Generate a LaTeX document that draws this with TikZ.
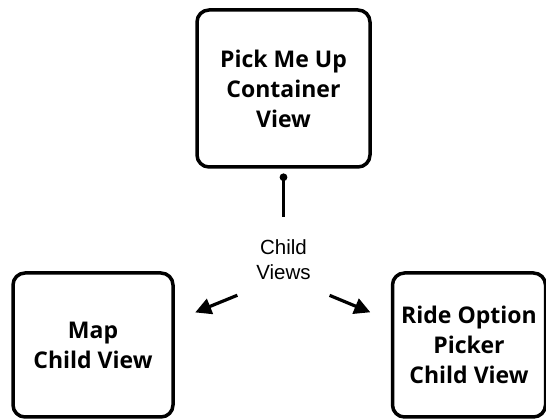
\documentclass[tikz,border=0pt]{standalone}
\usepackage{fontspec}
\newfontfamily\boxfont{Open Sans}
\newfontfamily\labelfont{Liberation Sans}
\usetikzlibrary{arrows.meta,positioning}

\begin{document}
\begin{tikzpicture}[on grid,
	view/.style={rectangle,draw,line width=3.5pt,rounded corners=12pt,inner sep=0pt,outer sep=0pt,align=center,font=\boxfont\bfseries\fontsize{23}{30}\selectfont},
	note/.style={inner sep=0pt,outer sep=0pt,minimum width=50pt,minimum height=44pt,align=center,font=\labelfont\fontsize{20.5}{25}\selectfont},
	link/.style={line width=3.5pt,{Circle[length=7.5pt]}-,shorten <=6.5pt,shorten >=20.5pt},
	child/.style={line width=3.2pt,-{Triangle[length=16pt,width=16pt]},shorten <=20.5pt,shorten >=24pt}]
	\useasboundingbox (0,0) rectangle (546pt,420pt);
	\node[view,minimum width=173pt,minimum height=157pt] (top) at (283.5pt,331.5pt) {Pick Me Up\\Container\\View};
	\node[note] (views) [below=171pt of top] {Child\\Views};
	\node[view,minimum width=160pt,minimum height=144pt] (map) [below left=85.5pt and 190.5pt of views] {Map\\Child View};
	\node[view,minimum width=153pt,minimum height=144pt] (ride) [below right=85.5pt and 185.5pt of views] {Ride Option\\Picker\\Child View};
	\draw[link] (top.south) -- (views.north);
	\draw[child] ([yshift=-6pt]views.south west) -- ([yshift=23.5pt]map.east);
	\draw[child] ([yshift=-6pt]views.south east) -- ([yshift=23.5pt]ride.west);
\end{tikzpicture}
\end{document}
